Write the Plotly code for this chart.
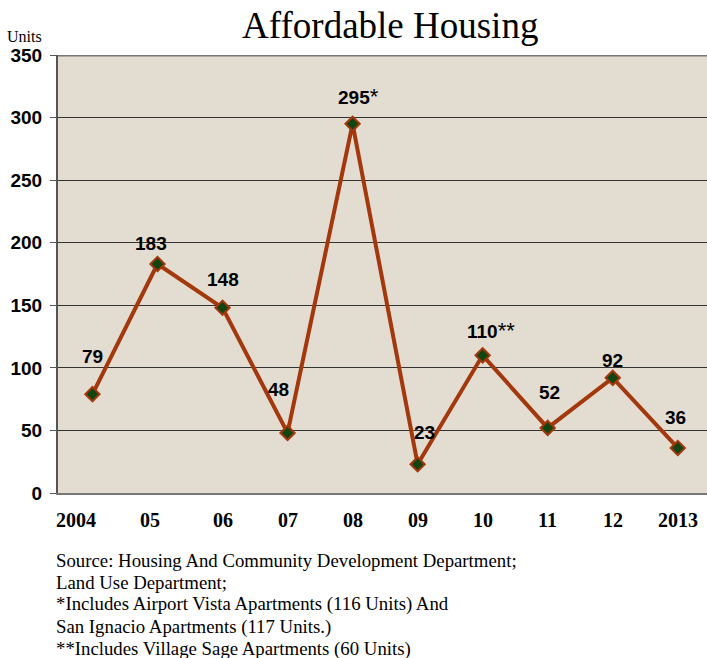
import plotly.graph_objects as go

years = ["2004", "05", "06", "07", "08", "09", "10", "11", "12", "2013"]
units = [79, 183, 148, 48, 295, 23, 110, 52, 92, 36]
label_text = ["79", "183", "148", "48", "295", "23", "110", "52", "92", "36"]
label_note = ["", "", "", "", "*", "", "**", "", "", ""]
y_ticks = [0, 50, 100, 150, 200, 250, 300, 350]
source_lines = [
    "Source: Housing And Community Development Department;",
    "Land Use Department;",
    "*Includes Airport Vista Apartments (116 Units) And",
    "San Ignacio Apartments (117 Units.)",
    "**Includes Village Sage Apartments (60 Units)",
]

# style: label offsets in pixels (x, y) and x tick label shifts
label_shift = [(0, 38), (-7, 20), (0, 28), (-9, 43), (6, 27), (7, 32), (8, 25), (2, 35), (0, 17), (-2, 30)]
tick_shift = [-16, -8, 0, 0, 0, 0, 0, 0, 0, 0]

line_color = "#a3380c"
fig = go.Figure()
fig.add_trace(go.Scatter(
    x=list(range(len(years))), y=units, mode="lines+markers",
    line=dict(color=line_color, width=4),
    marker=dict(symbol="diamond", size=11, color="#124512", line=dict(color=line_color, width=2)),
    hoverinfo="skip", showlegend=False,
))

for i, (t, v) in enumerate(zip(label_text, units)):
    dx, dy = label_shift[i]
    txt = "<b>" + t + "</b>"
    if label_note[i]:
        txt += '<span style="font-size:22px">' + label_note[i] + "</span>"
    fig.add_annotation(x=i, y=v, text=txt, showarrow=False, xshift=dx, yshift=dy,
                       font=dict(family="Liberation Sans", size=19, color="black"),
                       yanchor="middle")

for i, lab in enumerate(years):
    fig.add_annotation(x=i, y=0, yref="y", text="<b>" + lab + "</b>", showarrow=False,
                       xshift=tick_shift[i], yshift=-27, yanchor="middle",
                       font=dict(family="Liberation Serif", size=20, color="black"))

for k, line in enumerate(source_lines):
    fig.add_annotation(xref="paper", yref="paper", x=0, y=0, xshift=-4, yshift=-67 - 22.2 * k,
                       xanchor="left", yanchor="middle", text=line, showarrow=False,
                       font=dict(family="Liberation Serif", size=18.8, color="black"))

fig.add_annotation(xref="paper", yref="paper", x=0, y=1, xshift=-53, yshift=19,
                   xanchor="left", yanchor="middle", text="Units", showarrow=False,
                   font=dict(family="Liberation Serif", size=16, color="black"))

fig.update_layout(
    width=707, height=658,
    margin=dict(l=58, r=0, t=55, b=165, autoexpand=False),
    paper_bgcolor="white",
    plot_bgcolor="#e3dcd0",
    title=dict(text="Affordable Housing", x=0.552, xanchor="center", y=0.962, yanchor="middle",
               yref="container", automargin=False,
               font=dict(family="Liberation Serif", size=37, color="black")),
    xaxis=dict(tickvals=[], range=[-0.53, 9.45], showgrid=False, zeroline=False,
               showline=True, linecolor="#777777", linewidth=2, automargin=False),
    yaxis=dict(range=[0, 350], tickvals=y_ticks, showgrid=True, gridcolor="#333333", gridwidth=1,
               zeroline=False, showline=True, linecolor="#555555", linewidth=2,
               ticks="outside", ticklen=6, tickcolor="#555555", automargin=False,
               ticklabelstandoff=4,
               tickfont=dict(family="Liberation Sans", size=19, color="black", weight="bold")),
)
fig.add_shape(type="line", xref="paper", yref="y", x0=0, x1=1, y0=350, y1=350,
              line=dict(color="#777777", width=3))

fig.write_html("out.html", config={"displayModeBar": False},
               post_script="document.body.style.margin='0';document.body.style.overflow='hidden';")
